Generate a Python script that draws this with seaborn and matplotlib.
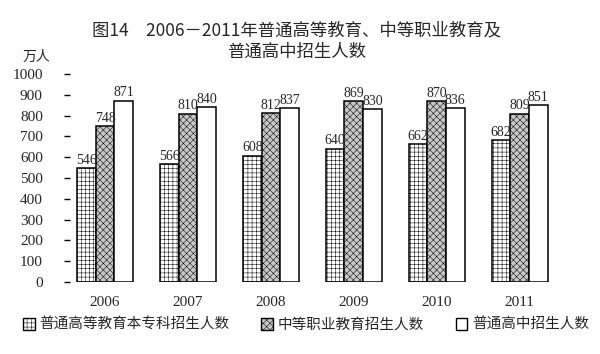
import matplotlib
matplotlib.use("Agg")
import matplotlib.pyplot as plt
import seaborn as sns
import pandas as pd
from matplotlib.patches import Patch

sns.set_theme(style="white")
plt.rcParams['font.family'] = ['Noto Sans CJK SC', 'DejaVu Sans']
plt.rcParams['hatch.linewidth'] = 0.35

# 数据
anos = ["2006", "2007", "2008", "2009", "2010", "2011"]
series = ["普通高等教育本专科招生人数", "中等职业教育招生人数", "普通高中招生人数"]
gaodeng = [546, 566, 608, 640, 662, 682]
zhongzhi = [748, 810, 812, 869, 870, 809]
gaozhong = [871, 840, 837, 830, 836, 851]

df = pd.DataFrame({
    "ano": anos * 3,
    "serie": [series[0]] * 6 + [series[1]] * 6 + [series[2]] * 6,
    "valor": gaodeng + zhongzhi + gaozhong,
})

hatches = ["++++", "xxxxx", ""]
cores = ["white", "#c8c8c8", "white"]

fig = plt.figure(figsize=(6, 3.54), dpi=100)
ax = fig.add_axes([0.106, 0.2034, 0.829, 0.5876])

sns.barplot(data=df, x="ano", y="valor", hue="serie", hue_order=series,
            palette=cores, width=0.675, edgecolor="black", linewidth=1.1,
            saturation=1, legend=False, ax=ax)

for cont, h in zip(ax.containers, hatches):
    for p in cont:
        p.set_hatch(h)
    ax.bar_label(cont, padding=1, fontsize=10, family="Liberation Serif")

ax.set_ylim(0, 1000)
ax.set_yticks(range(0, 1001, 100))
ax.set_xlim(-0.5, 5.5)
ax.set_xlabel("")
ax.set_ylabel("")
for s in ax.spines.values():
    s.set_visible(False)
ax.tick_params(axis="y", direction="in", length=4, width=1, color="black", left=True, pad=15)
ax.tick_params(axis="x", length=0, pad=10)
for lab in ax.get_xticklabels() + ax.get_yticklabels():
    lab.set_family("Liberation Serif")
    lab.set_fontsize(11)

fig.text(0.495, 0.915, "图14　2006－2011年普通高等教育、中等职业教育及", ha="center", va="center", fontsize=12.5)
fig.text(0.495, 0.855, "普通高中招生人数", ha="center", va="center", fontsize=12.5)
fig.text(0.06, 0.838, "万人", ha="center", va="center", fontsize=10)

handles = [Patch(facecolor=c, edgecolor="black", hatch=h, linewidth=1) for c, h in zip(cores, hatches)]
fig.legend(handles, series, loc="center", bbox_to_anchor=(0.51, 0.082), ncol=3, frameon=False,
           fontsize=10.5, handlelength=0.8, handleheight=0.8, handletextpad=0.3, columnspacing=2.2)

fig.savefig("out.png", dpi=100)
